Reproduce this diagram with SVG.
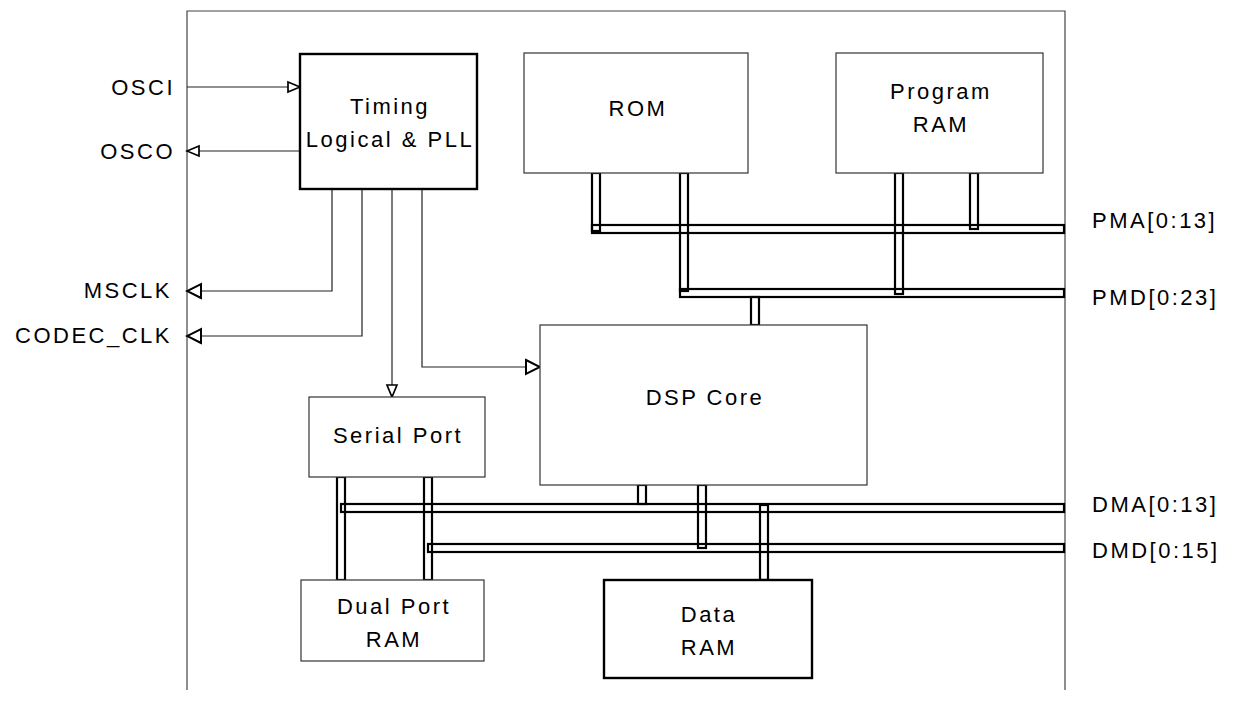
<svg xmlns="http://www.w3.org/2000/svg" width="1237" height="702" viewBox="0 0 1237 702">
<defs>
<style>
text{font-family:"Liberation Sans",Arial,sans-serif;font-size:22px;letter-spacing:2.5px;fill:#000}
.c{text-anchor:middle}
.e{text-anchor:end}
.box{fill:#fff;stroke:#333;stroke-width:1.2}
.bold{fill:#fff;stroke:#000;stroke-width:2.4}
.bus{fill:none;stroke:#000;stroke-width:2.2}
.wire{fill:none;stroke:#222;stroke-width:1.2}
.border{fill:none;stroke:#444;stroke-width:1.2}
</style>
<marker id="arS" markerUnits="userSpaceOnUse" markerWidth="16" markerHeight="14" refX="13" refY="6" orient="auto" viewBox="-1 -1 16 14">
<polygon points="1,1 13,6 1,11" fill="#fff" stroke="#000" stroke-width="1.7"/>
</marker>
<marker id="arL" markerUnits="userSpaceOnUse" markerWidth="18" markerHeight="18" refX="15" refY="8" orient="auto" viewBox="-1 -1 18 18">
<polygon points="1,1 15,8 1,15" fill="#fff" stroke="#000" stroke-width="2"/>
</marker>
</defs>
<rect width="1237" height="702" fill="#fff"/>
<g id="chip-border">
<polyline class="border" points="187,690 187,11 1065,11 1065,690"/>
</g>
<g id="connectors">
<line class="wire" x1="187" y1="87" x2="300" y2="87" marker-end="url(#arS)"/>
<line class="wire" x1="300" y1="151" x2="187" y2="151" stroke-width="1.8" marker-end="url(#arS)"/>
<polyline class="wire" points="332,189 332,291 187,291" marker-end="url(#arL)"/>
<polyline class="wire" points="362,189 362,336 187,336" marker-end="url(#arL)"/>
<line class="wire" x1="392" y1="189" x2="392" y2="397" marker-end="url(#arS)"/>
<polyline class="wire" points="422,189 422,367 540,367" marker-end="url(#arL)"/>
<rect class="bus" x="592" y="225" width="472" height="8"/>
<rect class="bus" x="680" y="289" width="384" height="8"/>
<rect class="bus" x="592" y="173" width="8" height="58"/>
<rect class="bus" x="680" y="173" width="8" height="118"/>
<rect class="bus" x="895" y="173" width="8" height="121"/>
<rect class="bus" x="970" y="173" width="8" height="56"/>
<rect class="bus" x="751" y="297" width="8" height="28"/>
<rect class="bus" x="341" y="504" width="723" height="8"/>
<rect class="bus" x="428" y="544" width="636" height="8"/>
<rect class="bus" x="337" y="477" width="8" height="103"/>
<rect class="bus" x="424" y="477" width="8" height="103"/>
<rect class="bus" x="638" y="485" width="8" height="19"/>
<rect class="bus" x="698" y="485" width="8" height="63"/>
<rect class="bus" x="760" y="505" width="8" height="75"/>
</g>
<g id="timing">
<rect class="bold" x="300" y="54" width="177" height="135"/>
<text class="c" x="390" y="114">Timing</text>
<text class="c" x="390" y="147">Logical &amp; PLL</text>
</g>
<g id="rom">
<rect class="box" x="524" y="53" width="224" height="120"/>
<text class="c" x="638" y="116">ROM</text>
</g>
<g id="program-ram">
<rect class="box" x="836" y="53" width="207" height="120"/>
<text class="c" x="941" y="99">Program</text>
<text class="c" x="941" y="132">RAM</text>
</g>
<g id="dsp-core">
<rect class="box" x="540" y="325" width="327" height="160"/>
<text class="c" x="705" y="405">DSP Core</text>
</g>
<g id="serial-port">
<rect class="box" x="309" y="397" width="176" height="80"/>
<text class="c" x="398" y="443">Serial Port</text>
</g>
<g id="dual-port-ram">
<rect class="box" x="301" y="580" width="183" height="81"/>
<text class="c" x="394" y="614">Dual Port</text>
<text class="c" x="394" y="647">RAM</text>
</g>
<g id="data-ram">
<rect class="bold" x="604" y="580" width="208" height="98"/>
<text class="c" x="709" y="622">Data</text>
<text class="c" x="709" y="655">RAM</text>
</g>
<g id="labels">
<text class="e" x="175" y="95">OSCI</text>
<text class="e" x="175" y="159">OSCO</text>
<text class="e" x="172" y="298">MSCLK</text>
<text class="e" x="172" y="343">CODEC_CLK</text>
<text x="1092" y="228">PMA[0:13]</text>
<text x="1092" y="305">PMD[0:23]</text>
<text x="1092" y="512">DMA[0:13]</text>
<text x="1092" y="558">DMD[0:15]</text>
</g>
</svg>
